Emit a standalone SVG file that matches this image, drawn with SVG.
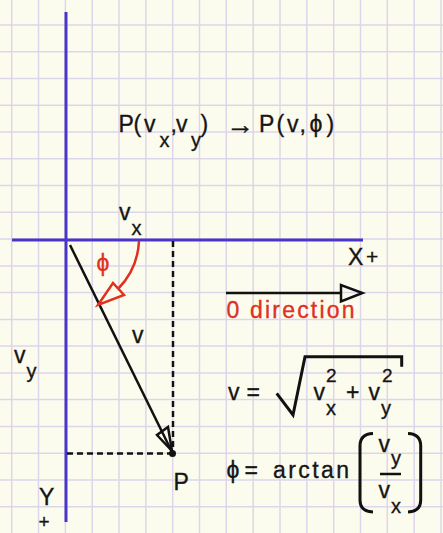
<svg xmlns="http://www.w3.org/2000/svg" width="443" height="533" viewBox="0 0 443 533">
<style>
.t{font-family:"Liberation Sans",Arial,sans-serif;font-size:23px;fill:#151515;stroke:#151515;stroke-width:0.35}
.s{font-size:20px}
.sup{font-size:19px}
.red{fill:#e0301e;stroke:#e0301e}
.ln{stroke:#111;stroke-width:2.5;fill:none}
.dash{stroke:#111;stroke-width:2.5;fill:none;stroke-dasharray:6 4}
.axis{stroke:#4a36c6;stroke-width:3;fill:none}
</style>
<rect width="443" height="533" fill="#fcfcee"/>
<g id="grid" stroke="#ddd5ea" stroke-width="1.5" fill="none">
<path d="M11.7,0V533M38.5,0V533M65.4,0V533M92.2,0V533M119,0V533M145.9,0V533M172.7,0V533M199.5,0V533M226.3,0V533M253.2,0V533M280,0V533M306.8,0V533M333.7,0V533M360.5,0V533M387.3,0V533M414.2,0V533M441,0V533"/>
<path d="M0,25H443M0,51.8H443M0,78.5H443M0,105.3H443M0,132H443M0,158.8H443M0,185.6H443M0,212.3H443M0,239.1H443M0,265.9H443M0,292.6H443M0,319.4H443M0,346.1H443M0,372.9H443M0,399.6H443M0,426.4H443M0,453.2H443M0,480H443M0,506.7H443"/>
</g>
<g id="axes">
<line class="axis" x1="66" y1="12" x2="66" y2="522"/>
<line class="axis" x1="12" y1="240" x2="363" y2="240"/>
</g>
<g id="connectors">
<line class="dash" x1="173" y1="241" x2="173" y2="453"/>
<line class="dash" x1="67" y1="453.5" x2="172" y2="453.5"/>
<line class="ln" x1="70" y1="245" x2="172" y2="452"/>
<polygon class="ln" points="172,451 157,435 168,427" fill="#fcfcee"/>
<circle cx="172.5" cy="453.5" r="3.5" fill="#111"/>
<path d="M139,241 A73.5,73.5 0 0 1 118,289" stroke="#e0301e" stroke-width="2.5" fill="none"/>
<polygon points="98,305 113,283 124,295" stroke="#e0301e" stroke-width="2.5" fill="#fcfcee"/>
<line class="ln" x1="226" y1="293" x2="341" y2="293"/>
<polygon class="ln" points="341,285 341,301.5 362.5,293" fill="#fcfcee"/>
</g>
<g id="title">
<text class="t" y="132"><tspan x="118.5 133.5 144">P(v</tspan><tspan class="s" x="159.5" y="147">x</tspan><tspan x="170.5 176" y="132">,v</tspan><tspan class="s" x="191" y="147">y</tspan><tspan x="200.5" y="132">)</tspan></text>
<text class="t" x="226" y="134" style="font-size:28px">→</text>
<text class="t" y="132"><tspan x="259 276.5 287 299.5 305 309.5 326.5">P(v, ϕ)</tspan></text>
</g>
<g id="label-vx"><text class="t" x="119" y="220">v</text><text class="t s" x="131.5" y="235">x</text></g>
<g id="label-xplus"><text class="t" x="348" y="265">X</text><text class="t" x="366" y="264" style="font-size:21px">+</text></g>
<g id="label-phi"><text class="t red" x="96.5" y="271">ϕ</text></g>
<g id="label-v"><text class="t" x="132" y="343">v</text></g>
<g id="label-vy"><text class="t" x="14" y="363">v</text><text class="t s" x="26.5" y="378">y</text></g>
<g id="label-yplus"><text class="t" x="39" y="505">Y</text><text class="t sup" x="38.5" y="528">+</text></g>
<g id="label-p"><text class="t" x="173.5" y="490">P</text></g>
<g id="label-zero"><text class="t red" x="226.5" y="318" textLength="128" lengthAdjust="spacing">0 direction</text></g>
<g id="formula-v">
<text class="t" x="228" y="400">v</text>
<text class="t" x="246.5" y="400">=</text>
<path d="M276.7,393.3 L293,415 L305,356.7 H401.7 V366.7" stroke="#111" stroke-width="3" fill="none"/>
<text class="t" x="313.5" y="400">v</text><text class="t s" x="326" y="415">x</text><text class="t sup" x="326" y="382">2</text>
<text class="t" x="346" y="400">+</text>
<text class="t" x="368.5" y="400">v</text><text class="t s" x="381" y="415">y</text><text class="t sup" x="382" y="382">2</text>
</g>
<g id="formula-phi">
<text class="t" x="226.5" y="478">ϕ</text>
<text class="t" x="244.5" y="478">=</text>
<text class="t" x="273" y="478" textLength="76" lengthAdjust="spacing">arctan</text>
<path d="M373,433.5 Q360,434 360,446 V500 Q360,511.5 373,512" stroke="#111" stroke-width="3" fill="none"/>
<path d="M408,433.5 Q420.7,434 420.7,446 V500 Q420.7,511.5 408,512" stroke="#111" stroke-width="3" fill="none"/>
<text class="t" x="378.5" y="452">v</text><text class="t s" x="391" y="465">y</text>
<line x1="380" y1="474" x2="401" y2="474" stroke="#111" stroke-width="2.5"/>
<text class="t" x="378.5" y="498">v</text><text class="t s" x="391" y="513">x</text>
</g>
</svg>
